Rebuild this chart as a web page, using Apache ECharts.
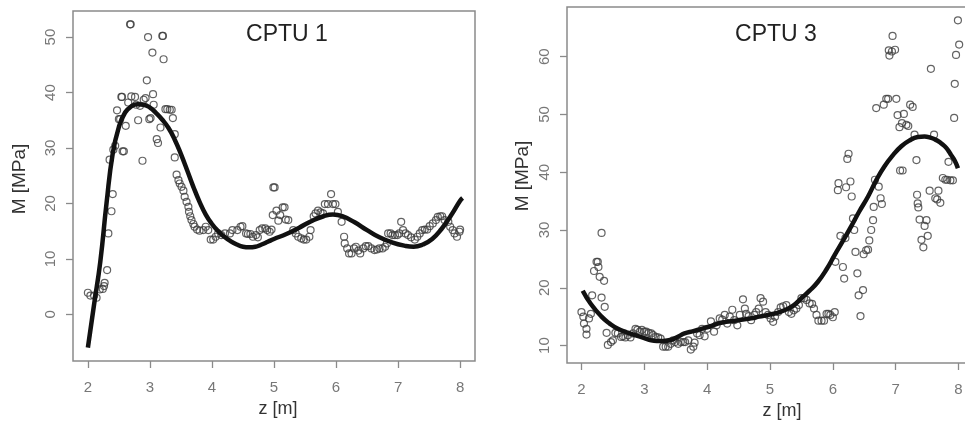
<!DOCTYPE html>
<html>
<head>
<meta charset="utf-8">
<script src="https://cdn.jsdelivr.net/npm/echarts@6/dist/echarts.min.js"></script>
<style>
html,body{margin:0;padding:0;background:#fff;}
#chart{width:965px;height:425px;}
</style>
</head>
<body>
<div id="chart"></div>
<script>
// ---------- DATA ----------
const titles = ["CPTU 1", "CPTU 3"];
const xName = "z [m]";
const yName = "M [MPa]";
const xTicks = [2, 3, 4, 5, 6, 7, 8];
const yTicks1 = [0, 10, 20, 30, 40, 50];
const yTicks3 = [10, 20, 30, 40, 50, 60];

// CPTU 1 measured points
const z1 = [2.00,2.04,2.10,2.14,2.19,2.24,2.26,2.27,2.31,2.33,2.38,2.40,2.35,2.41,2.44,2.47,2.50,2.52,2.54,2.55,2.56,2.58,2.61,2.65,2.68,2.69,2.70,2.76,2.78,2.81,2.84,2.88,2.90,2.93,2.95,2.97,2.99,3.01,3.04,3.05,3.06,3.11,3.13,3.17,3.20,3.21,3.22,3.25,3.28,3.32,3.35,3.37,3.40,3.40,3.43,3.46,3.48,3.51,3.54,3.56,3.59,3.62,3.63,3.65,3.67,3.70,3.72,3.76,3.80,3.86,3.90,3.94,3.98,4.02,4.06,4.10,4.15,4.21,4.29,4.33,4.41,4.46,4.49,4.55,4.58,4.62,4.66,4.71,4.74,4.77,4.81,4.86,4.89,4.93,4.96,4.99,5.01,4.98,5.04,5.07,5.10,5.14,5.17,5.19,5.23,5.31,5.35,5.39,5.44,5.48,5.52,5.57,5.59,5.64,5.67,5.71,5.75,5.79,5.82,5.87,5.92,5.95,5.99,6.03,6.09,6.13,6.14,6.18,6.21,6.25,6.29,6.32,6.36,6.39,6.44,6.48,6.52,6.57,6.62,6.66,6.70,6.75,6.79,6.82,6.84,6.88,6.91,6.95,6.99,7.02,7.05,7.08,7.12,7.16,7.21,7.27,7.31,7.35,7.39,7.43,7.47,7.51,7.56,7.61,7.64,7.68,7.71,7.75,7.81,7.84,7.88,7.91,7.95,7.99,8.00];
const m1 = [3.9,3.4,3.4,3.0,4.5,4.6,5.1,5.7,8.0,14.6,18.6,21.7,27.9,29.7,30.4,36.8,35.2,35.2,39.2,39.2,29.4,29.4,34.0,38.2,52.3,52.3,39.3,39.2,37.8,35.0,37.6,27.7,38.7,39.0,42.2,50.0,35.2,35.4,47.2,39.7,37.8,31.6,30.9,33.7,50.2,50.2,46.0,37.0,37.0,36.9,36.9,35.4,32.5,28.3,25.2,24.2,23.6,23.0,22.3,21.2,20.3,19.4,18.5,17.7,17.0,16.3,15.8,15.3,15.1,15.2,15.8,15.2,13.5,13.5,14.0,14.6,14.3,14.6,14.6,15.2,15.2,15.8,15.9,14.6,14.5,14.5,14.0,14.3,13.9,15.2,15.5,15.5,15.2,14.9,15.3,22.9,22.9,17.9,18.7,16.9,17.9,19.3,19.3,17.1,17.0,15.2,14.6,14.0,13.7,13.5,13.5,14.0,15.2,17.7,18.2,18.7,18.4,18.2,19.9,19.9,21.7,19.9,19.9,18.5,16.7,14.0,12.8,11.9,11.0,11.0,11.9,12.2,11.5,11.0,11.9,12.3,12.3,11.9,11.6,11.7,11.9,11.9,12.2,12.8,14.6,14.6,14.3,14.3,14.3,14.6,16.7,15.2,14.6,14.3,13.9,13.5,14.0,14.6,15.2,15.3,15.3,15.9,16.4,17.0,17.6,17.7,17.7,17.0,16.7,15.8,15.2,14.6,14.0,14.9,15.3];

// CPTU 1 fitted curve
const lineZ1 = [2.0,2.1,2.2,2.3,2.4,2.5,2.6,2.7,2.8,2.9,3.0,3.1,3.2,3.3,3.4,3.5,3.6,3.7,3.8,3.9,4.0,4.1,4.2,4.3,4.4,4.5,4.6,4.7,4.8,4.9,5.0,5.2,5.4,5.6,5.8,5.95,6.1,6.3,6.5,6.7,6.9,7.1,7.25,7.4,7.55,7.7,7.85,8.0,8.04];
const lineM1 = [-6,1.8,9.5,20,29,33.8,36.4,37.5,37.9,37.8,37.3,36.3,35.1,33.6,31.5,28.9,26.0,23.0,20.3,18.0,16.3,15.0,14.0,13.2,12.6,12.2,12.1,12.2,12.6,13.1,13.6,14.5,15.6,16.8,17.7,18.0,17.7,16.6,15.2,13.9,13.0,12.4,12.2,12.6,13.6,15.4,17.8,20.5,21.0];

// CPTU 3 measured points
const z3 = [2.00,2.03,2.04,2.08,2.08,2.12,2.15,2.17,2.20,2.24,2.26,2.27,2.29,2.32,2.32,2.36,2.37,2.40,2.42,2.47,2.50,2.54,2.58,2.63,2.66,2.70,2.74,2.78,2.82,2.86,2.89,2.93,2.96,3.00,3.03,3.07,3.11,3.14,3.18,3.22,3.26,3.30,3.34,3.38,3.42,3.46,3.49,3.54,3.58,3.62,3.65,3.70,3.74,3.78,3.80,3.84,3.88,3.92,3.96,4.00,4.06,4.11,4.15,4.20,4.24,4.28,4.32,4.36,4.40,4.43,4.48,4.52,4.57,4.60,4.62,4.66,4.70,4.75,4.78,4.82,4.85,4.89,4.93,4.97,5.01,5.05,5.08,5.13,5.17,5.21,5.26,5.30,5.34,5.38,5.42,5.46,5.50,5.54,5.58,5.63,5.67,5.70,5.74,5.77,5.82,5.86,5.90,5.93,5.96,6.00,6.03,6.04,6.08,6.09,6.12,6.16,6.18,6.20,6.21,6.23,6.25,6.28,6.30,6.32,6.34,6.36,6.39,6.41,6.44,6.48,6.49,6.53,6.56,6.58,6.61,6.64,6.65,6.67,6.69,6.73,6.76,6.78,6.81,6.85,6.88,6.89,6.90,6.94,6.95,6.99,7.01,7.03,7.06,7.07,7.10,7.11,7.13,7.17,7.20,7.23,7.27,7.30,7.33,7.34,7.35,7.36,7.38,7.41,7.44,7.46,7.49,7.51,7.54,7.56,7.61,7.63,7.66,7.68,7.71,7.75,7.79,7.82,7.84,7.87,7.91,7.93,7.94,7.96,7.99,8.01];
const m3 = [15.8,15.0,13.8,12.9,11.9,14.7,15.5,18.7,22.9,24.5,24.5,23.6,21.9,29.5,18.3,21.2,16.7,12.2,10.1,10.6,10.9,12.2,12.1,11.5,11.6,11.4,11.8,11.4,12.1,12.9,12.7,12.4,12.7,12.4,12.4,12.2,12.1,11.8,11.5,11.4,11.2,9.8,9.8,9.8,10.3,10.9,10.6,10.3,10.6,10.6,10.6,10.9,9.3,9.8,10.5,12.1,11.8,12.9,11.6,12.9,14.2,12.4,13.5,14.7,14.5,15.3,13.8,15.0,16.2,14.4,13.5,15.3,18.0,16.4,15.5,15.1,14.4,15.3,15.8,16.4,18.2,17.6,15.8,15.3,14.7,14.1,15.0,15.8,16.6,16.8,17.0,15.8,15.5,16.1,16.4,17.0,18.2,18.2,17.9,17.3,17.2,16.4,15.3,14.3,14.3,14.3,15.5,15.5,15.3,14.9,15.8,24.5,36.9,38.1,29.0,23.6,21.6,28.6,37.4,42.3,43.2,38.4,35.8,32.0,30.0,26.2,22.5,18.7,15.1,19.6,25.8,26.5,26.6,28.2,30.0,31.7,34.0,38.7,51.1,37.5,35.5,34.5,51.7,52.7,52.7,61.1,60.2,60.9,63.6,61.2,52.7,49.9,47.8,40.3,48.5,40.3,50.1,48.2,48.0,51.7,51.3,46.5,42.1,36.1,34.6,33.9,31.8,28.3,27.0,30.7,31.7,29.0,36.8,57.9,46.5,35.5,35.3,36.8,34.7,39.0,38.7,38.7,41.8,38.6,38.6,49.4,55.3,60.3,66.3,62.1];

// CPTU 3 fitted curve
const lineZ3 = [2.02,2.15,2.32,2.45,2.58,2.72,2.85,3.0,3.11,3.2,3.3,3.43,3.55,3.64,3.78,3.91,4.04,4.17,4.3,4.44,4.57,4.70,4.83,4.97,5.1,5.23,5.37,5.50,5.63,5.76,5.9,6.03,6.16,6.29,6.42,6.56,6.69,6.82,6.96,7.09,7.22,7.35,7.46,7.55,7.62,7.70,7.78,7.84,7.88,7.94,7.99];
const lineM3 = [19.5,17.2,15.0,13.8,12.9,12.3,11.8,11.3,10.9,10.8,10.8,11.0,11.6,12.1,12.5,12.9,13.3,13.8,14.1,14.3,14.5,14.7,15.0,15.3,15.6,16.1,16.9,18.2,19.5,21.0,23.2,25.7,28.1,30.6,33.2,35.8,38.6,41.0,43.0,44.5,45.5,46.1,46.2,46.0,45.7,45.2,44.5,43.7,43.0,42.0,40.7];

// ---------- CHART ----------
const pts = (zs, ms) => zs.map((z, i) => [z, ms[i]]);
const gray = '#8a8a8a';
const labelColor = '#777';
const fontFam = '"Liberation Sans", Arial, sans-serif';

function xAxisFor(gridIndex, min, max, namePad) {
  return {
    type: 'value', gridIndex, min, max,
    name: xName, nameLocation: 'middle', nameGap: 34,
    nameTextStyle: { fontSize: 18, color: '#333', fontFamily: fontFam, padding: namePad },
    axisLine: { show: false, onZero: false },
    axisTick: { show: true, length: 7, inside: false, customValues: xTicks, lineStyle: { color: gray, width: 1.3 } },
    axisLabel: { customValues: xTicks, margin: 19, fontSize: 15, color: labelColor, fontFamily: fontFam },
    splitLine: { show: false }
  };
}
function yAxisFor(gridIndex, min, max, ticks, nameGap, namePad) {
  return {
    type: 'value', gridIndex, min, max,
    name: yName, nameLocation: 'middle', nameGap, nameRotate: 90,
    nameTextStyle: { fontSize: 19, color: '#333', fontFamily: fontFam, padding: namePad },
    axisLine: { show: false, onZero: false },
    axisTick: { show: true, length: 7, inside: false, customValues: ticks, lineStyle: { color: gray, width: 1.3 } },
    axisLabel: { customValues: ticks, margin: 15, rotate: 90, fontSize: 15, color: labelColor, fontFamily: fontFam },
    splitLine: { show: false }
  };
}
const scatterStyle = { color: 'rgba(0,0,0,0)', borderColor: '#3c3c3c', borderWidth: 1.2 };
const lineStyle = { color: '#111', width: 4.5 };

const chart = echarts.init(document.getElementById('chart'), null, { renderer: 'canvas' });
chart.setOption({
  animation: false,
  backgroundColor: '#fff',
  grid: [
    { left: 73, top: 11, width: 402, height: 350, outerBoundsMode: 'none', containLabel: false, show: true, borderColor: gray, borderWidth: 1.5, backgroundColor: 'transparent' },
    { left: 567, top: 7, width: 406, height: 356, outerBoundsMode: 'none', containLabel: false, show: true, borderColor: gray, borderWidth: 1.5, backgroundColor: 'transparent' }
  ],
  xAxis: [
    xAxisFor(0, 1.76, 8.24, [0, 0, 0, 8]),
    xAxisFor(1, 1.77, 8.23, [0, 0, 0, 24])
  ],
  yAxis: [
    yAxisFor(0, -8.4, 54.7, yTicks1, 44, [0, 0, 0, 14]),
    yAxisFor(1, 6.98, 68.6, yTicks3, 35, [0, 0, 0, 18])
  ],
  graphic: [
    { type: 'text', x: 287, y: 35, style: { text: titles[0], font: '23px ' + fontFam, fill: '#222', align: 'center', verticalAlign: 'middle' } },
    { type: 'text', x: 776, y: 35, style: { text: titles[1], font: '23px ' + fontFam, fill: '#222', align: 'center', verticalAlign: 'middle' } }
  ],
  series: [
    { type: 'scatter', xAxisIndex: 0, yAxisIndex: 0, data: pts(z1, m1), symbol: 'circle', symbolSize: 7, itemStyle: scatterStyle, z: 2 },
    { type: 'line', xAxisIndex: 0, yAxisIndex: 0, data: pts(lineZ1, lineM1), smooth: true, showSymbol: false, lineStyle, z: 3 },
    { type: 'scatter', xAxisIndex: 1, yAxisIndex: 1, data: pts(z3, m3), symbol: 'circle', symbolSize: 7, itemStyle: scatterStyle, z: 2 },
    { type: 'line', xAxisIndex: 1, yAxisIndex: 1, data: pts(lineZ3, lineM3), smooth: true, showSymbol: false, lineStyle, z: 3 }
  ]
});
</script>
</body>
</html>
